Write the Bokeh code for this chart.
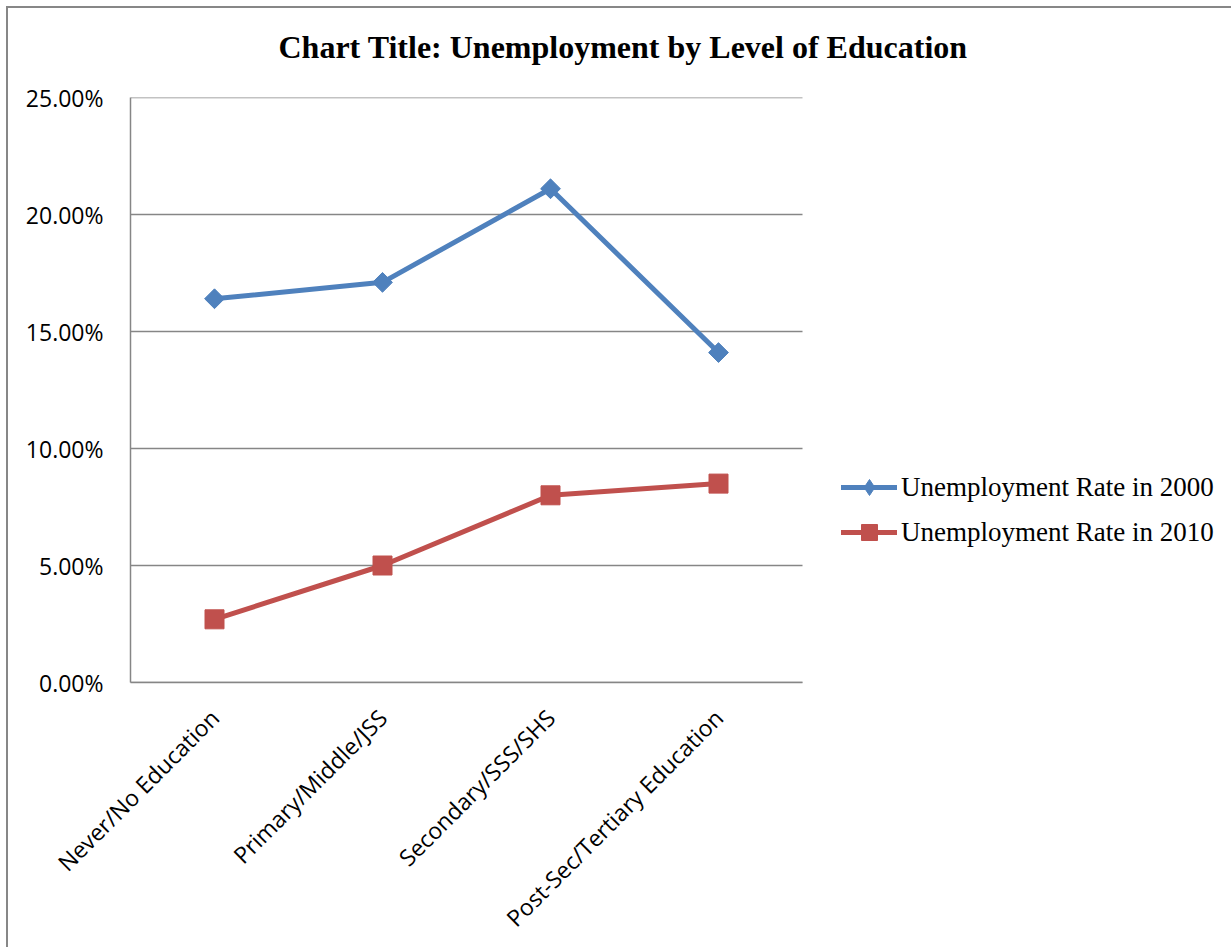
from bokeh.plotting import figure
from bokeh.models import (ColumnDataSource, Range1d, FixedTicker, NumeralTickFormatter,
                          Legend, LegendItem, Title)
from bokeh.embed import file_html
from bokeh.resources import INLINE
import math

categories = ["Never/No Education", "Primary/Middle/JSS", "Secondary/SSS/SHS",
              "Post-Sec/Tertiary Education"]
rate_2000 = [0.164, 0.171, 0.211, 0.141]
rate_2010 = [0.027, 0.050, 0.080, 0.085]
y_ticks = [0.0, 0.05, 0.10, 0.15, 0.20, 0.25]
title_text = "Chart Title: Unemployment by Level of Education"
series_names = ["Unemployment Rate in 2000", "Unemployment Rate in 2010"]

n = len(categories)
xs = [i + 0.5 for i in range(n)]
src = ColumnDataSource(dict(x=xs, y2000=rate_2000, y2010=rate_2010))
grid_src = ColumnDataSource(dict(x0=[0] * len(y_ticks), x1=[n] * len(y_ticks),
                                 y=y_ticks))

BLUE = "#4F81BD"
RED = "#C0504D"
GRID = "#868686"

# plot area occupies 672 px of a 1101 px wide frame; legend sits to its right
x_end = n * 1101 / 672

p = figure(width=1223, height=939, output_backend="svg", toolbar_location=None,
           x_range=Range1d(0, x_end), y_range=Range1d(0, 0.25),
           min_border_left=122, min_border_right=0, min_border_top=0,
           min_border_bottom=257, title=None)
p.margin = (8, 0, 0, 8)
p.styles = {"outline": "2px solid #878787"}
p.outline_line_color = None
p.background_fill_color = "white"
p.border_fill_color = "white"

# axes
p.xaxis.ticker = FixedTicker(ticks=xs)
p.xaxis.bounds = (0, n)
p.xaxis.major_label_overrides = {x: c for x, c in zip(xs, categories)}
p.xaxis.major_label_orientation = math.pi / 4
p.xaxis.major_label_text_font = "Open Sans"
p.xaxis.major_label_text_font_size = "23px"
p.xaxis.major_label_text_color = "black"
p.xaxis.major_label_standoff = 25
p.xaxis.major_tick_line_color = None
p.xaxis.minor_tick_line_color = None
p.xaxis.axis_line_color = GRID
p.xaxis.axis_line_width = 1.5

p.yaxis.ticker = FixedTicker(ticks=y_ticks)
p.yaxis.formatter = NumeralTickFormatter(format="0.00%")
p.yaxis.major_label_text_font = "Open Sans"
p.yaxis.major_label_text_font_size = "23px"
p.yaxis.major_label_text_color = "black"
p.yaxis.major_label_standoff = 21
p.yaxis.major_tick_line_color = None
p.yaxis.minor_tick_line_color = None
p.yaxis.axis_line_color = GRID
p.yaxis.axis_line_width = 1.5

p.xgrid.grid_line_color = None
p.ygrid.grid_line_color = None
p.segment(x0="x0", x1="x1", y0="y", y1="y", source=grid_src,
          line_color=GRID, line_width=1.5)

# series
l1 = p.line("x", "y2000", source=src, line_color=BLUE, line_width=5, line_cap="round")
m1 = p.scatter("x", "y2000", source=src, marker="square", angle=math.pi / 4,
               size=14, fill_color=BLUE, line_color=BLUE)
m1_key = p.scatter("x", "y2000", source=src, marker="diamond", size=0,
                   fill_color=BLUE, line_color=BLUE)
l2 = p.line("x", "y2010", source=src, line_color=RED, line_width=5, line_cap="round")
m2 = p.scatter("x", "y2010", source=src, marker="square", size=19,
               fill_color=RED, line_color=RED)

legend = Legend(items=[LegendItem(label=series_names[0], renderers=[l1, m1_key]),
                       LegendItem(label=series_names[1], renderers=[l2, m2])],
                location=(711, 130), orientation="vertical")
legend.border_line_color = None
legend.background_fill_alpha = 0
legend.padding = 0
legend.margin = 0
legend.spacing = 5
legend.glyph_width = 56
legend.glyph_height = 40
legend.label_height = 40
legend.label_standoff = 4
legend.label_text_font = "Liberation Serif"
legend.label_text_font_size = "27px"
legend.label_text_color = "black"
p.add_layout(legend, "center")

spacer = Title(text=" ", align="left", standoff=2, text_font_size="10px")
p.add_layout(spacer, "above")
title = Title(text=title_text, align="left", offset=148, standoff=36,
              text_font="Liberation Serif", text_font_style="bold",
              text_font_size="32px", text_color="black")
p.add_layout(title, "above")

open("out.html", "w").write(file_html(p, INLINE))
